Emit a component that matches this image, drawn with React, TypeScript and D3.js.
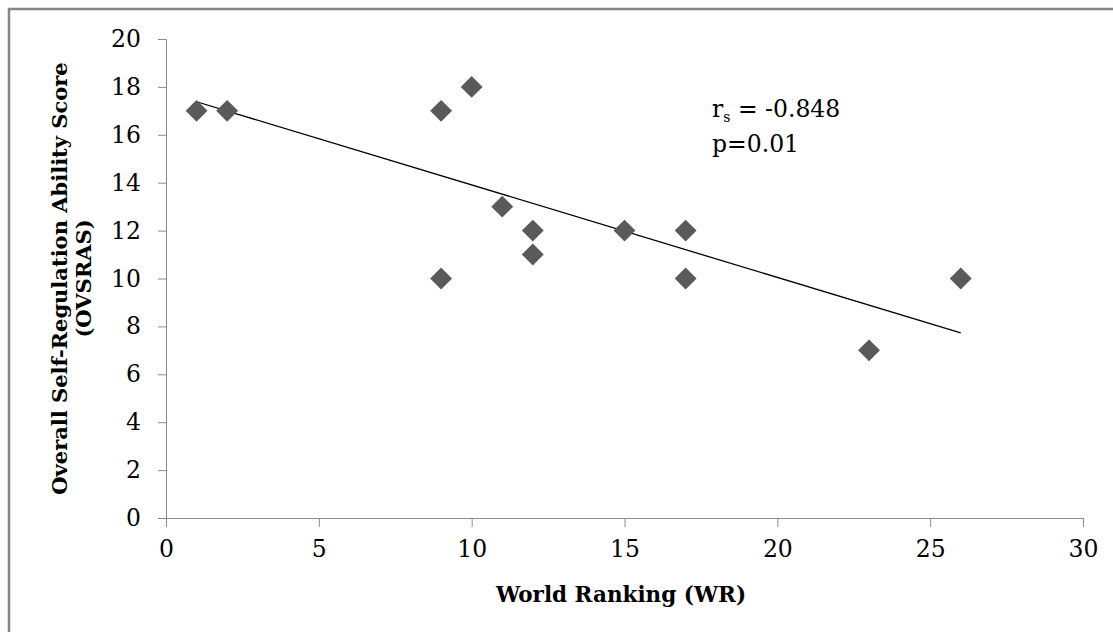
import React, { useEffect, useRef } from "react";
import * as d3 from "d3";

// world ranking vs. self-regulation score
const ranking = [1, 2, 9, 10, 9, 11, 12, 12, 15, 17, 17, 23, 26];
const score = [17, 17, 17, 18, 10, 13, 12, 11, 12, 12, 10, 7, 10];

// linear trend line as drawn in the reference (end points)
const trendX = [1, 26];
const trendY = [17.38, 7.73];

const xTicks = [0, 5, 10, 15, 20, 25, 30];
const yTicks = [0, 2, 4, 6, 8, 10, 12, 14, 16, 18, 20];

function App() {
  const ref = useRef<SVGSVGElement>(null);

  useEffect(() => {
    const width = 1113,
      height = 632;
    const left = 166,
      right = 1083,
      top = 39,
      bottom = 518;

    const svg = d3.select(ref.current);
    svg.selectAll("*").remove();

    // outer chart frame
    svg
      .append("rect")
      .attr("x", 9)
      .attr("y", 9)
      .attr("width", width + 20)
      .attr("height", height + 20)
      .attr("fill", "white")
      .attr("stroke", "#868686")
      .attr("stroke-width", 2.5);

    const x = d3.scaleLinear().domain([0, 30]).range([left, right]);
    const y = d3.scaleLinear().domain([0, 20]).range([bottom, top]);

    const font = "'DejaVu Serif', serif";
    const axisColor = "#8c8c8c";

    // y axis
    const yAxis = svg
      .append("g")
      .attr("transform", `translate(${left},0)`)
      .call(d3.axisLeft(y).tickValues(yTicks).tickSize(8).tickPadding(17));
    yAxis.select(".domain").attr("stroke", axisColor);
    yAxis.selectAll(".tick line").attr("stroke", axisColor);
    yAxis
      .selectAll(".tick text")
      .attr("font-family", font)
      .attr("font-size", 23.5)
      .attr("fill", "#000");

    // x axis
    const xAxis = svg
      .append("g")
      .attr("transform", `translate(0,${bottom})`)
      .call(d3.axisBottom(x).tickValues(xTicks).tickSize(9).tickPadding(13));
    xAxis.select(".domain").attr("stroke", axisColor);
    xAxis.selectAll(".tick line").attr("stroke", axisColor);
    xAxis
      .selectAll(".tick text")
      .attr("font-family", font)
      .attr("font-size", 23.5)
      .attr("fill", "#000");

    // trend line
    const line = d3
      .line<number>()
      .x((d) => x(d))
      .y((d, i) => y(trendY[i]));
    svg
      .append("path")
      .attr("d", line(trendX))
      .attr("fill", "none")
      .attr("stroke", "#000")
      .attr("stroke-width", 1.3);

    // diamond markers
    const diamond = d3.symbol().type(d3.symbolSquare).size(240);
    svg
      .selectAll("path.pt")
      .data(ranking)
      .join("path")
      .attr("class", "pt")
      .attr("d", diamond)
      .attr("transform", (d, i) => `translate(${x(d)},${y(score[i])}) rotate(45)`)
      .attr("fill", "#5a5a5a");

    // axis titles
    svg
      .append("text")
      .attr("x", 621)
      .attr("y", 602)
      .attr("text-anchor", "middle")
      .attr("font-family", font)
      .attr("font-weight", "bold")
      .attr("font-size", 21.5)
      .text("World Ranking (WR)");

    const yTitle = svg
      .append("text")
      .attr("transform", `translate(67,${(top + bottom) / 2}) rotate(-90)`)
      .attr("text-anchor", "middle")
      .attr("font-family", font)
      .attr("font-weight", "bold")
      .attr("font-size", 21);
    yTitle.append("tspan").attr("x", 0).attr("y", 0).text("Overall Self-Regulation Ability Score");
    yTitle.append("tspan").attr("x", 0).attr("y", 24).text("(OVSRAS)");

    // correlation annotation
    const note = svg
      .append("text")
      .attr("x", 712)
      .attr("y", 117)
      .attr("font-family", font)
      .attr("font-size", 23.5)
      .attr("fill", "#000");
    note.append("tspan").text("r");
    note.append("tspan").attr("font-size", 14).attr("dy", 5).text("s");
    note.append("tspan").attr("dy", -5).text(" = -0.848");
    svg
      .append("text")
      .attr("x", 712)
      .attr("y", 152)
      .attr("font-family", font)
      .attr("font-size", 23.5)
      .attr("fill", "#000")
      .text("p=0.01");
  }, []);

  return (
    <svg
      ref={ref}
      width={1113}
      height={632}
      style={{ position: "absolute", left: 0, top: 0, background: "white" }}
    />
  );
}

export default App;
